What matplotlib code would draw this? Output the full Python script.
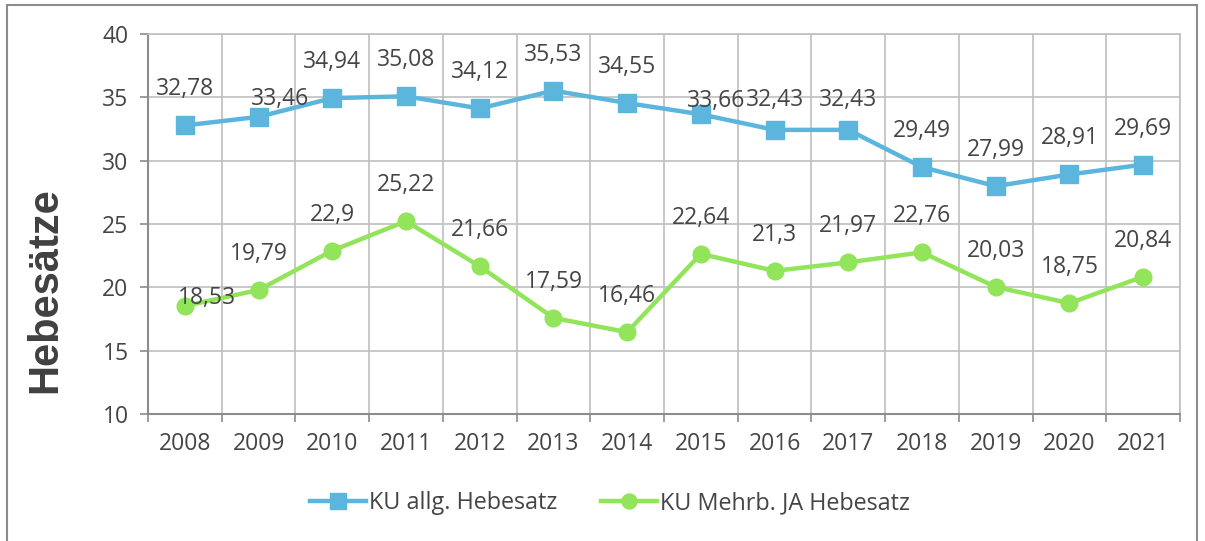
import numpy as np
import matplotlib.pyplot as plt
from matplotlib.patches import Rectangle

# data
years = ['2008', '2009', '2010', '2011', '2012', '2013', '2014',
         '2015', '2016', '2017', '2018', '2019', '2020', '2021']
allg = [32.78, 33.46, 34.94, 35.08, 34.12, 35.53, 34.55,
        33.66, 32.43, 32.43, 29.49, 27.99, 28.91, 29.69]
mehrb = [18.53, 19.79, 22.9, 25.22, 21.66, 17.59, 16.46,
         22.64, 21.3, 21.97, 22.76, 20.03, 18.75, 20.84]
name_allg = 'KU allg. Hebesatz'
name_mehrb = 'KU Mehrb. JA Hebesatz'

# label offsets (pixels) where excel moved them
off_allg = {1: (21, 18), 7: (15, 13), 8: (0, 30), 9: (0, 30)}
off_mehrb = {0: (22, 8)}

blue = '#5BB5DD'
green = '#92E45A'
txt = '#454545'

plt.rcParams['font.family'] = ['Open Sans', 'DejaVu Sans']

fig = plt.figure(figsize=(12.05, 5.41), dpi=100)
fig.patches.append(Rectangle((7 / 1205, -0.01), 1190 / 1205, 1 - 5 / 541 + 0.01,
                             transform=fig.transFigure, fill=False,
                             edgecolor='#8c8c8c', lw=1.5))
ax = fig.add_axes([148 / 1205, 127 / 541, 1032 / 1205, 380 / 541])

x = np.arange(len(years))
ax.plot(x, allg, color=blue, lw=3.2, marker='s', ms=13, label=name_allg, zorder=3)
ax.plot(x, mehrb, color=green, lw=3.2, marker='o', ms=12, label=name_mehrb, zorder=3)

def fmt(v):
    return ('%g' % v).replace('.', ',')

for vals, offs in ((allg, off_allg), (mehrb, off_mehrb)):
    for i, v in enumerate(vals):
        dx, dy = offs.get(i, (0, 36))
        ax.annotate(fmt(v), (x[i], v), xytext=(dx, dy), textcoords='offset pixels',
                    ha='center', va='center', fontsize=16.5, color=txt, zorder=4)

ax.set_xlim(-0.5, len(years) - 0.5)
ax.set_ylim(10, 40)
ax.set_yticks(range(10, 41, 5))
ax.set_xticks(x)
ax.set_xticklabels(years)
ax.set_xticks(np.arange(-0.5, len(years), 1), minor=True)
ax.tick_params(axis='x', which='major', length=0, pad=13, labelsize=16.5, labelcolor=txt)
ax.tick_params(axis='x', which='minor', length=6, color='#8c8c8c', width=1.2)
ax.tick_params(axis='y', length=6, color='#8c8c8c', width=1.2, pad=8,
               labelsize=16.5, labelcolor=txt)
ax.grid(True, which='minor', axis='x', color='#bfbfbf', lw=1.2)
ax.grid(True, which='major', axis='y', color='#bfbfbf', lw=1.2)
ax.set_axisbelow(True)
for s in ('top', 'right'):
    ax.spines[s].set_color('#bfbfbf')
    ax.spines[s].set_linewidth(1.2)
for s in ('left', 'bottom'):
    ax.spines[s].set_color('#8c8c8c')
    ax.spines[s].set_linewidth(1.5)

fig.text(45 / 1205, 1 - 290 / 541, 'Hebesätze', rotation=90, ha='center', va='center',
         fontsize=30, fontweight='bold', color='#404040', family='Liberation Sans')

fig.legend(loc='center', bbox_to_anchor=(610 / 1205, 1 - 503 / 541), ncol=2,
           frameon=False, fontsize=16.8, labelcolor=txt, handlelength=2.4,
           handletextpad=0.13, columnspacing=1.9, markerscale=0.9)

fig.savefig('out.png', dpi=100)
